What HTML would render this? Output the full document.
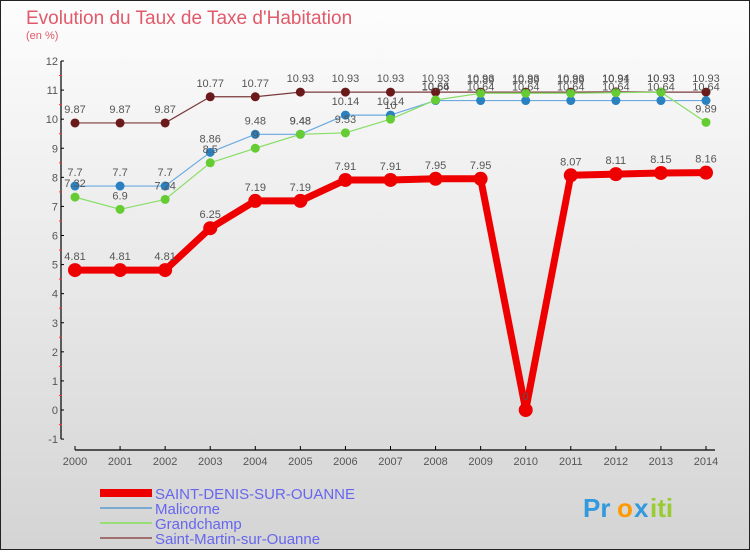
<!DOCTYPE html>
<html><head><meta charset="utf-8"><style>
body{margin:0}
svg text{font-family:"Liberation Sans","DejaVu Sans",sans-serif}
</style></head><body>
<svg id="c" width="750" height="550" xmlns="http://www.w3.org/2000/svg">
<defs><linearGradient id="bg" x1="0" y1="0" x2="0" y2="1"><stop offset="0" stop-color="#fdfdfd"/><stop offset="1" stop-color="#d4d4d4"/></linearGradient></defs>
<rect x="0.5" y="0.5" width="749" height="549" fill="url(#bg)" stroke="#222"/>
<text x="26" y="24" font-size="19" fill="#e05a6a">Evolution du Taux de Taxe d'Habitation</text>
<text x="26" y="39" font-size="11" fill="#e05a6a">(en %)</text>
<g id="axes"></g><g id="series"></g><g id="labels"></g>
<g>
<rect x="100" y="489" width="52" height="8" fill="#ee0000"/>
<text x="155" y="499" font-size="15" fill="#6666ee">SAINT-DENIS-SUR-OUANNE</text>
<rect x="100" y="507" width="52" height="2" fill="#7aaad0"/>
<text x="155" y="514" font-size="15" fill="#6666ee">Malicorne</text>
<rect x="100" y="522" width="52" height="2" fill="#99dd77"/>
<text x="155" y="529" font-size="15" fill="#6666ee">Grandchamp</text>
<rect x="100" y="537" width="52" height="2" fill="#a07070"/>
<text x="155" y="544" font-size="15" fill="#6666ee">Saint-Martin-sur-Ouanne</text>
</g>
<g font-size="26" font-weight="bold">
<text x="583" y="517" fill="#3399dd">Pr</text><text x="617" y="517" fill="#ff9900">o</text><text x="634" y="517" fill="#3399dd">x</text><text x="650" y="517" fill="#99cc33">iti</text>
</g>
</svg>
<script>
const years=[2000,2001,2002,2003,2004,2005,2006,2007,2008,2009,2010,2011,2012,2013,2014];
const yTicks=[-1,0,1,2,3,4,5,6,7,8,9,10,11,12];
const saintDenis=[4.81,4.81,4.81,6.25,7.19,7.19,7.91,7.91,7.95,7.95,0,8.07,8.11,8.15,8.16];
const malicorne=[7.7,7.7,7.7,8.86,9.48,9.48,10.14,10.14,10.64,10.64,10.64,10.64,10.64,10.64,10.64];
const grandchamp=[7.32,6.9,7.24,8.5,9,9.48,9.53,10,10.66,10.89,10.89,10.89,10.91,10.93,9.89];
const saintMartin=[9.87,9.87,9.87,10.77,10.77,10.93,10.93,10.93,10.93,10.93,10.93,10.93,10.94,10.93,10.93];
const NS='http://www.w3.org/2000/svg';
const X=i=>75+i*(706-75)/(years.length-1);
const Y=v=>410-v*(410-61)/12;
function mk(t,a,p){const e=document.createElementNS(NS,t);for(const k in a)e.setAttribute(k,a[k]);p.appendChild(e);return e;}
const ax=document.getElementById('axes');
let yl=mk('line',{x1:61,y1:Y(12),x2:61,y2:Y(-1),stroke:'#000','stroke-width':1.2},ax);


yTicks.forEach(v=>{
 mk('line',{x1:61,x2:64,y1:Y(v),y2:Y(v),stroke:'#000'},ax);
 if(v<12) mk('line',{x1:59,x2:62,y1:Y(v+0.5),y2:Y(v+0.5),stroke:'#f33'},ax);
 const t=mk('text',{x:58,y:Y(v)+4,'font-size':11,fill:'#555','text-anchor':'end'},ax);t.textContent=v;
 
 
});
let xl=mk('line',{x1:75,y1:450,x2:715,y2:450,stroke:'#000','stroke-width':1.2},ax);


years.forEach((y,i)=>{
 mk('line',{x1:X(i),x2:X(i),y1:446,y2:450,stroke:'#000'},ax);
 const t=mk('text',{x:X(i),y:465,'font-size':11,fill:'#555','text-anchor':'middle'},ax);t.textContent=y;
 
 
});
const sg=document.getElementById('series'),lg=document.getElementById('labels');
function series(d,name,color,dot,w,r){
 const g=mk('g',{},sg);
 
 
 const p=mk('polyline',{points:d.map((v,i)=>X(i)+','+Y(v)).join(' '),fill:'none',stroke:color,'stroke-width':w,'stroke-linejoin':'round'},g);
 
 
 d.forEach((v,i)=>{
  const c=mk('circle',{cx:X(i),cy:Y(v),r:r,fill:dot},g);
  
  
  const t=mk('text',{x:X(i),y:Y(v)-10,'font-size':11,fill:'#555','text-anchor':'middle'},lg);t.textContent=v;
  
  
 });
}
series(saintMartin,'saint-martin','#7a3a3a','#6a1a1a',1.2,4.5);
series(malicorne,'malicorne','#6aaae0','#2b80c0',1.2,4.5);
series(grandchamp,'grandchamp','#88dd66','#66cc33',1.2,4.5);
series(saintDenis,'saint-denis','#ee0000','#ee0000',7,7);
</script>
</body></html>
